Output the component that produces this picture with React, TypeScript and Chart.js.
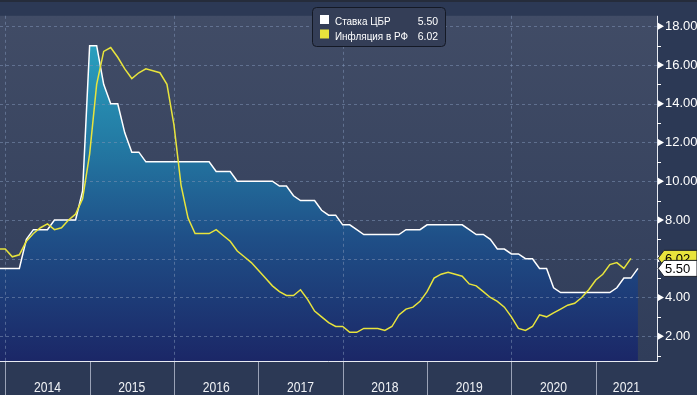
import React, { useEffect, useRef } from "react";
import { Chart, registerables } from "chart.js";

Chart.register(...registerables);

// Month-end observations, first entry = Nov 2013 (month index -1), index 0 = Dec 2013
const firstMonthIndex = -1;

const seriesNames = ["Ставка ЦБР", "Инфляция в РФ"];

const keyRate = [
  5.5, 5.5,
  5.5, 5.5, 7.0, 7.5, 7.5, 7.5, 8.0, 8.0, 8.0, 8.0, 9.5, 17.0,
  17.0, 15.0, 14.0, 14.0, 12.5, 11.5, 11.5, 11.0, 11.0, 11.0, 11.0, 11.0,
  11.0, 11.0, 11.0, 11.0, 11.0, 10.5, 10.5, 10.5, 10.0, 10.0, 10.0, 10.0,
  10.0, 10.0, 9.75, 9.75, 9.25, 9.0, 9.0, 9.0, 8.5, 8.25, 8.25, 7.75,
  7.75, 7.5, 7.25, 7.25, 7.25, 7.25, 7.25, 7.25, 7.5, 7.5, 7.5, 7.75,
  7.75, 7.75, 7.75, 7.75, 7.75, 7.5, 7.25, 7.25, 7.0, 6.5, 6.5, 6.25,
  6.25, 6.0, 6.0, 5.5, 5.5, 4.5, 4.25, 4.25, 4.25, 4.25, 4.25, 4.25,
  4.25, 4.25, 4.5, 5.0, 5.0, 5.5,
];

const inflation = [
  6.5, 6.5,
  6.1, 6.2, 6.9, 7.3, 7.6, 7.8, 7.5, 7.6, 8.0, 8.3, 9.1, 11.4,
  15.0, 16.7, 16.9, 16.4, 15.8, 15.3, 15.6, 15.8, 15.7, 15.6, 15.0, 12.9,
  9.8, 8.1, 7.3, 7.3, 7.3, 7.5, 7.2, 6.9, 6.4, 6.1, 5.8, 5.4,
  5.0, 4.6, 4.3, 4.1, 4.1, 4.4, 3.9, 3.3, 3.0, 2.7, 2.5, 2.5,
  2.2, 2.2, 2.4, 2.4, 2.4, 2.3, 2.5, 3.1, 3.4, 3.5, 3.8, 4.3,
  5.0, 5.2, 5.3, 5.2, 5.1, 4.7, 4.6, 4.3, 4.0, 3.8, 3.5, 3.0,
  2.4, 2.3, 2.5, 3.1, 3.0, 3.2, 3.4, 3.6, 3.7, 4.0, 4.4, 4.9,
  5.2, 5.7, 5.8, 5.5, 6.02,
];

const yearLabels = ["2014", "2015", "2016", "2017", "2018", "2019", "2020", "2021"];
const yMajorTicks = [2, 4, 6, 8, 10, 12, 14, 16, 18];
const yMinorTicks = [1, 3, 5, 7, 9, 11, 13, 15, 17];

const WHITE = "#ffffff";
const YELLOW = "#e8e43c";

const toPoints = (arr: number[]) => arr.map((v, i) => ({ x: firstMonthIndex + i, y: v }));

const decorPlugin = {
  id: "decor",
  beforeDraw(chart: any) {
    const { ctx, chartArea: ca, width, height } = chart;
    ctx.save();
    ctx.fillStyle = "#2c3955";
    ctx.fillRect(0, 0, width, height);
    const g = ctx.createLinearGradient(0, ca.top, 0, ca.bottom);
    g.addColorStop(0, "#414c66");
    g.addColorStop(1, "#303d5a");
    ctx.fillStyle = g;
    ctx.fillRect(ca.left, ca.top, ca.right - ca.left, ca.bottom - ca.top);
    ctx.restore();
  },
  beforeDatasetsDraw(chart: any) {
    const { ctx, chartArea: ca, scales } = chart;
    const xs = scales.x;
    const ys = scales.y;
    ctx.save();
    ctx.strokeStyle = "rgba(125,145,180,0.55)";
    ctx.lineWidth = 1;
    ctx.setLineDash([3, 3]);
    yMajorTicks.forEach((v) => {
      const y = Math.round(ys.getPixelForValue(v)) + 0.5;
      ctx.beginPath();
      ctx.moveTo(ca.left, y);
      ctx.lineTo(ca.right, y);
      ctx.stroke();
    });
    yearLabels.forEach((_, i) => {
      if (i % 2 !== 0) return;
      const x = Math.round(xs.getPixelForValue(i * 12)) + 0.5;
      ctx.beginPath();
      ctx.moveTo(x, ca.top);
      ctx.lineTo(x, ca.bottom);
      ctx.stroke();
    });
    ctx.restore();
  },
  afterDraw(chart: any) {
    const { ctx, chartArea: ca, scales, width, height } = chart;
    const xs = scales.x;
    const ys = scales.y;
    ctx.save();
    // top dark band
    ctx.fillStyle = "#252c3b";
    ctx.fillRect(0, 0, width, 2);

    // frame
    ctx.strokeStyle = "#e8ebf2";
    ctx.lineWidth = 1;
    ctx.beginPath();
    ctx.moveTo(0, ca.bottom + 0.5);
    ctx.lineTo(ca.right + 0.5, ca.bottom + 0.5);
    ctx.lineTo(ca.right + 0.5, ca.top);
    ctx.stroke();

    // right axis ticks
    ctx.fillStyle = WHITE;
    yMajorTicks.forEach((v) => {
      const y = ys.getPixelForValue(v);
      ctx.beginPath();
      ctx.moveTo(ca.right + 1, y - 3.5);
      ctx.lineTo(ca.right + 7, y);
      ctx.lineTo(ca.right + 1, y + 3.5);
      ctx.closePath();
      ctx.fill();
    });
    ctx.strokeStyle = WHITE;
    yMinorTicks.forEach((v) => {
      const y = Math.round(ys.getPixelForValue(v)) + 0.5;
      ctx.beginPath();
      ctx.moveTo(ca.right, y);
      ctx.lineTo(ca.right + 4, y);
      ctx.stroke();
    });

    // year separators & labels
    ctx.strokeStyle = "#9aa2b6";
    const bounds: number[] = [];
    yearLabels.forEach((_, i) => bounds.push(xs.getPixelForValue(i * 12)));
    bounds.push(ca.right);
    bounds.slice(0, yearLabels.length).forEach((bx) => {
      const x = Math.round(bx) + 0.5;
      ctx.beginPath();
      ctx.moveTo(x, ca.bottom + 1);
      ctx.lineTo(x, height);
      ctx.stroke();
    });
    ctx.fillStyle = "#f0f2f6";
    ctx.font = "15px 'Liberation Sans', Arial, sans-serif";
    ctx.textAlign = "center";
    ctx.textBaseline = "alphabetic";
    yearLabels.forEach((lab, i) => {
      const cx = (bounds[i] + bounds[i + 1]) / 2;
      ctx.save();
      ctx.translate(cx, 392);
      ctx.scale(0.81, 1);
      ctx.fillText(lab, 0, 0);
      ctx.restore();
    });

    // value tags
    const drawTag = (v: number, fill: string) => {
      const yc = ys.getPixelForValue(v);
      const x0 = ca.right + 1;
      ctx.beginPath();
      ctx.moveTo(x0, yc);
      ctx.lineTo(x0 + 6, yc - 8);
      ctx.lineTo(width, yc - 8);
      ctx.lineTo(width, yc + 8);
      ctx.lineTo(x0 + 6, yc + 8);
      ctx.closePath();
      ctx.fillStyle = fill;
      ctx.fill();
      ctx.strokeStyle = "#1a1f2a";
      ctx.stroke();
      ctx.fillStyle = "#000000";
      ctx.font = "13px 'Liberation Sans', Arial, sans-serif";
      ctx.textAlign = "left";
      ctx.textBaseline = "middle";
      ctx.fillText(v.toFixed(2), x0 + 7, yc + 1);
    };
    drawTag(inflation[inflation.length - 1], YELLOW);
    drawTag(keyRate[keyRate.length - 1], WHITE);

    // legend
    const lx = 312.5, ly = 7.5, lw = 133, lh = 39;
    ctx.beginPath();
    ctx.roundRect(lx, ly, lw, lh, 4);
    ctx.fillStyle = "#343e57";
    ctx.fill();
    ctx.strokeStyle = "#141925";
    ctx.lineWidth = 1;
    ctx.stroke();
    const rows = [
      { name: seriesNames[0], color: WHITE, val: keyRate[keyRate.length - 1] },
      { name: seriesNames[1], color: YELLOW, val: inflation[inflation.length - 1] },
    ];
    ctx.font = "11px 'Liberation Sans', Arial, sans-serif";
    ctx.textBaseline = "alphabetic";
    rows.forEach((r, i) => {
      const by = 15 + i * 14.5;
      ctx.fillStyle = r.color;
      ctx.fillRect(320, by, 9, 9);
      ctx.fillStyle = "#ffffff";
      ctx.save();
      ctx.translate(335, by + 10);
      ctx.scale(0.9, 1);
      ctx.textAlign = "left";
      ctx.fillText(r.name, 0, 0);
      ctx.restore();
      ctx.save();
      ctx.translate(438, by + 10);
      ctx.scale(0.95, 1);
      ctx.textAlign = "right";
      ctx.fillText(r.val.toFixed(2), 0, 0);
      ctx.restore();
    });
    ctx.restore();
  },
};

export default function App() {
  const ref = useRef<HTMLCanvasElement | null>(null);
  useEffect(() => {
    if (!ref.current) return;
    const chart = new Chart(ref.current, {
      type: "line",
      data: {
        datasets: [
          {
            label: seriesNames[0],
            data: toPoints(keyRate),
            borderColor: WHITE,
            borderWidth: 1.5,
            pointRadius: 0,
            tension: 0,
            fill: "start",
            order: 1,
            backgroundColor: (c: any) => {
              const ca = c.chart.chartArea;
              if (!ca) return "#1f4d85";
              const g = c.chart.ctx.createLinearGradient(0, 30, 0, ca.bottom);
              g.addColorStop(0, "#2ba5c2");
              g.addColorStop(0.35, "#2379a3");
              g.addColorStop(0.62, "#1f5088");
              g.addColorStop(1, "#1b2767");
              return g;
            },
          },
          {
            label: seriesNames[1],
            data: toPoints(inflation),
            borderColor: YELLOW,
            borderWidth: 1.5,
            pointRadius: 0,
            tension: 0,
            fill: false,
            order: 0,
          },
        ],
      },
      options: {
        responsive: false,
        animation: false,
        devicePixelRatio: 1,
        layout: { padding: { left: 0, top: 0, right: 0, bottom: 34 } },
        plugins: {
          legend: { display: false },
          tooltip: { enabled: false },
          filler: { drawTime: "beforeDatasetsDraw" },
        },
        scales: {
          x: { type: "linear", display: false, min: -0.75, max: 92.71 },
          y: {
            position: "right",
            min: 0.72,
            max: 18.54,
            grid: { display: false, drawTicks: false },
            border: { display: false },
            afterFit: (s: any) => {
              s.width = 40;
            },
            afterBuildTicks: (s: any) => {
              s.ticks = yMajorTicks.map((v) => ({ value: v }));
            },
            ticks: {
              color: "#ffffff",
              padding: 8,
              font: { family: "'Liberation Sans', Arial, sans-serif", size: 13 },
              callback: (v: any) => Number(v).toFixed(2),
            },
          },
        },
      } as any,
      plugins: [decorPlugin as any],
    });
    return () => chart.destroy();
  }, []);
  return (
    <div style={{ position: "fixed", left: 0, top: 0, width: 697, height: 395 }}>
      <canvas ref={ref} width={697} height={395} style={{ width: 697, height: 395, display: "block" }} />
    </div>
  );
}
